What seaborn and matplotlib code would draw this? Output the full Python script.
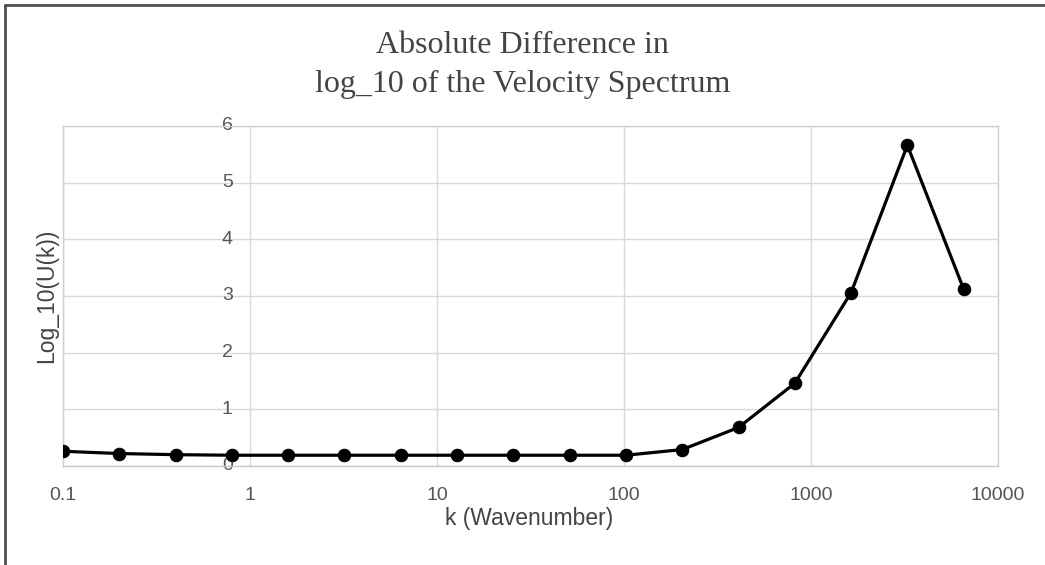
import numpy as np
import pandas as pd
import matplotlib
matplotlib.use("Agg")
import matplotlib.pyplot as plt
import matplotlib.transforms as mtransforms
from matplotlib.lines import Line2D
import seaborn as sns

# ---- data ----
wavenumber = [0.1, 0.2, 0.4, 0.8, 1.6, 3.2, 6.4, 12.8, 25.6, 51.2, 102.4,
              204.8, 409.6, 819.2, 1638.4, 3276.8, 6553.6]
abs_diff = [0.26, 0.22, 0.20, 0.19, 0.19, 0.19, 0.19, 0.19, 0.19, 0.19, 0.19,
            0.29, 0.68, 1.46, 3.06, 5.66, 3.12]
x_ticks = [0.1, 1, 10, 100, 1000, 10000]
x_tick_labels = ["0.1", "1", "10", "100", "1000", "10000"]
y_ticks = [0, 1, 2, 3, 4, 5, 6]
y_tick_labels = ["0", "1", "2", "3", "4", "5", "6"]
title_lines = ["Absolute Difference in", "log_10 of the Velocity Spectrum"]
x_label = "k (Wavenumber)"
y_label = "Log_10(U(k))"

df = pd.DataFrame({"k": wavenumber, "v": abs_diff})

sns.set_theme(style="white")
plt.rcParams["font.family"] = ["Liberation Sans", "DejaVu Sans"]

fig = plt.figure(figsize=(10.45, 5.65), dpi=100)
ax = fig.add_axes([63 / 1045, 1 - 466 / 565, (998 - 63) / 1045, (466 - 126) / 565])

sns.lineplot(data=df, x="k", y="v", ax=ax, color="black", linewidth=2.3,
             marker="o", markersize=9, markeredgecolor="black", zorder=5)

ax.set_xscale("log")
ax.set_xlim(0.1, 10000)
ax.set_ylim(0, 6)
ax.set_xticks(x_ticks)
ax.set_xticklabels(x_tick_labels)
ax.xaxis.set_minor_locator(matplotlib.ticker.NullLocator())
ax.set_yticks(y_ticks)
ax.set_yticklabels([])
ax.tick_params(axis="both", length=0)
ax.tick_params(axis="x", labelsize=14, labelcolor="#555555", pad=15)

ax.grid(True, color="#d9d9d9", linewidth=1.0)
for s in ax.spines.values():
    s.set_color("#d0d0d0")
    s.set_linewidth(1.0)
ax.spines["bottom"].set_color("#c8c8c8")

# y tick labels drawn at the x=1 crossing
trans = mtransforms.offset_copy(ax.transData, fig=fig, x=-12.5, y=0, units="points")
for yv, lab in zip(y_ticks, y_tick_labels):
    ax.text(1, yv, lab, transform=trans, ha="right", va="center",
            fontsize=14, color="#555555", zorder=1)

ax.set_xlabel("")
ax.set_ylabel("")
fig.text(529 / 1045, 1 - 519 / 565, x_label, ha="center", va="center",
         fontsize=16.5, color="#444444")
fig.text(47 / 1045, 1 - 296 / 565, y_label, rotation=90, ha="center", va="center",
         fontsize=16.5, color="#444444")

fig.text(0.5, 1 - 53 / 565, title_lines[0], ha="center", va="baseline",
         fontsize=23, color="#444444", family=["Liberation Serif", "DejaVu Serif"])
fig.text(0.5, 1 - 92 / 565, title_lines[1], ha="center", va="baseline",
         fontsize=23, color="#444444", family=["Liberation Serif", "DejaVu Serif"])

# outer frame (left and top edges)
fig.add_artist(Line2D([5 / 1045, 5 / 1045], [0, 1 - 5 / 565], transform=fig.transFigure,
                      color="#505050", linewidth=2))
fig.add_artist(Line2D([5 / 1045, 1], [1 - 5 / 565, 1 - 5 / 565], transform=fig.transFigure,
                      color="#505050", linewidth=2))

fig.savefig("out.png", dpi=100, facecolor="white")
